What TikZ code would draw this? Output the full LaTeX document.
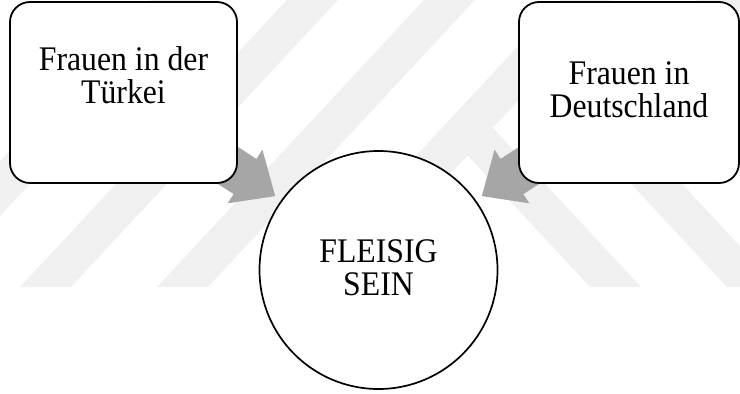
\documentclass[tikz,border=0pt]{standalone}
\usepackage{fontspec}
\setmainfont{Liberation Serif}[FakeStretch=0.92]
\begin{document}
\begin{tikzpicture}[x=1pt,y=-1pt,
  stripe/.style={fill=black!6, draw=none},
  blockarrow/.style={fill=black!35, draw=none},
  box/.style={draw=black, line width=1.8pt, fill=white, rounded corners=20pt, inner sep=0pt},
  roundnode/.style={draw=black, line width=1.7pt, fill=white, circle, inner sep=0pt, minimum size=238pt},
  labeltext/.style={font=\fontsize{34.5}{33}\selectfont, align=center}]
\useasboundingbox (0,0) rectangle (740,394);

% faint diagonal background stripes
\begin{scope}
  \clip (0,0) rectangle (740,394);
  \fill[stripe] (-117,287) -- (-66,287) -- (210.2,-10) -- (159.2,-10) -- cycle;
  \fill[stripe] (20,287) -- (71,287) -- (347.2,-10) -- (296.2,-10) -- cycle;
  \fill[stripe] (157,287) -- (208,287) -- (484.2,-10) -- (433.2,-10) -- cycle;
  \fill[stripe] (294,287) -- (345,287) -- (621.2,-10) -- (570.2,-10) -- cycle;
  \fill[stripe] (578.9,128) -- (629.9,128) -- (758.2,-10) -- (707.2,-10) -- cycle;
  \fill[stripe] (590,287) -- (641,287) -- (493.1,128) -- (442.1,128) -- cycle;
  \fill[stripe] (727,287) -- (778,287) -- (630.1,128) -- (579.1,128) -- cycle;
\end{scope}

% block arrows leading into the circle
\fill[blockarrow] (206.1,126.2) -- (256.4,158.9) -- (262.4,149.7) -- (275.2,196.1)
  -- (227.6,203.3) -- (233.6,194.1) -- (183.3,161.4) -- cycle;
\fill[blockarrow] (550.9,126.2) -- (500.6,158.9) -- (494.6,149.7) -- (481.8,196.1)
  -- (529.4,203.3) -- (523.4,194.1) -- (573.7,161.4) -- cycle;

% boxes and circle
\node[box, minimum width=227pt, minimum height=181pt] (tuerkei) at (123.5,92.5) {};
\node[labeltext] (tuerkeitext) at ([yshift=17.8pt]tuerkei.center) {Frauen in der\\Türkei};
\node[box, minimum width=220pt, minimum height=181pt] (deutschland) at (629,92.5) {};
\node[labeltext] (deutschlandtext) at ([yshift=2.8pt]deutschland.center) {Frauen in\\Deutschland};
\node[roundnode] (fleissig) at (378.5,270) {};
\node[labeltext] (fleissigtext) at ([yshift=1.9pt]fleissig.center) {FLEISIG\\SEIN};
\end{tikzpicture}
\end{document}
